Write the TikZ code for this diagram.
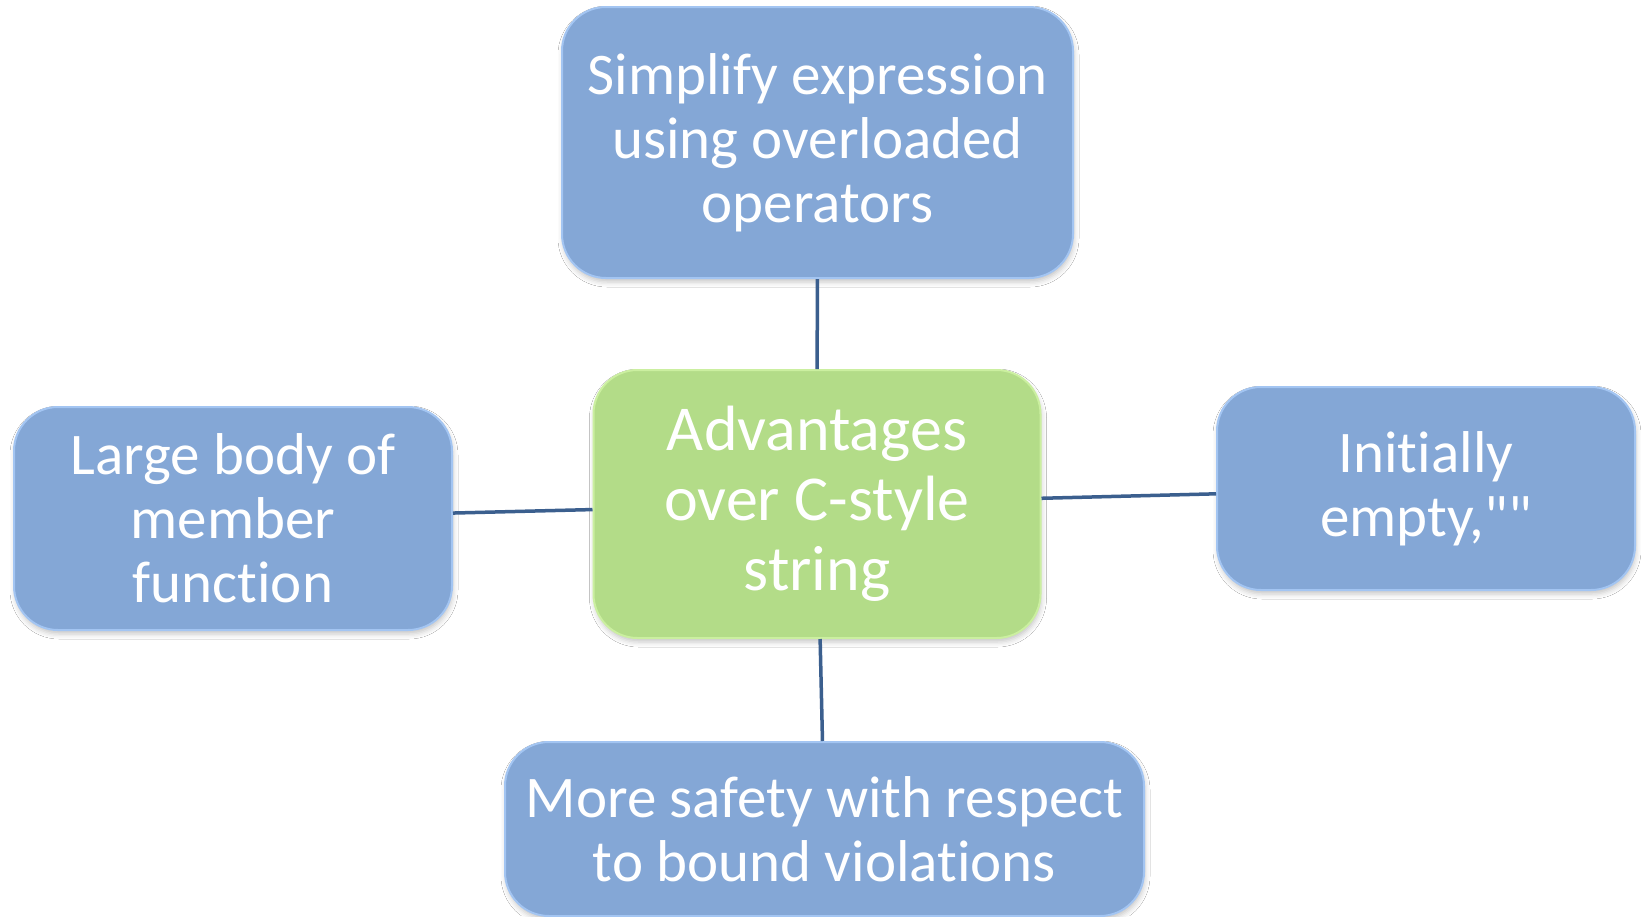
\documentclass[tikz,border=0pt]{standalone}
\usepackage{fontspec}
\setmainfont{Carlito}[Ligatures={TeXOff,NoCommon}]
\usetikzlibrary{shadows.blur}
\definecolor{boxblue}{HTML}{84A7D6}
\definecolor{edgeblue}{HTML}{A3C5F2}
\definecolor{boxgreen}{HTML}{B3DC88}
\definecolor{edgegreen}{HTML}{CBEFA0}
\definecolor{linkblue}{HTML}{3B5F8E}
\tikzset{
  base/.style={rounded corners=44pt, line width=2pt, text=white, align=center, inner sep=0pt,
    blur shadow={shadow xshift=1pt, shadow yshift=-4pt, shadow blur radius=5pt, shadow opacity=22}},
  bluebox/.style={base, fill=boxblue, draw=edgeblue, font=\fontsize{59}{64}\selectfont},
  greenbox/.style={base, fill=boxgreen, draw=edgegreen, font=\fontsize{64}{70}\selectfont},
  link/.style={draw=linkblue, line width=3.5pt}
}
\begin{document}
\begin{tikzpicture}[x=1pt,y=-1pt]
\useasboundingbox (0,0) rectangle (1641,916);
\fill[white] (0,0) rectangle (1641,916);
\node[greenbox, minimum width=447pt, minimum height=268pt] (c) at (817,504) {Advantages\\over C-style\\string};
\node[bluebox, minimum width=511pt, minimum height=271pt] (t) at (817.5,142.5) {Simplify expression\\using overloaded\\operators};
\node[bluebox, minimum width=438pt, minimum height=223pt] (l) at (233,518.5) {Large body of\\member\\function};
\node[bluebox, minimum width=418pt, minimum height=203pt] (r) at (1426,488.5) {Initially\\empty,""};
\node[bluebox, minimum width=639pt, minimum height=174pt] (b) at (824.5,829) {More safety with respect\\to bound violations};
\draw[link] (t) -- (c);
\draw[link] (l) -- (c);
\draw[link] (c) -- (r);
\draw[link] (c) -- (b);
\end{tikzpicture}
\end{document}
